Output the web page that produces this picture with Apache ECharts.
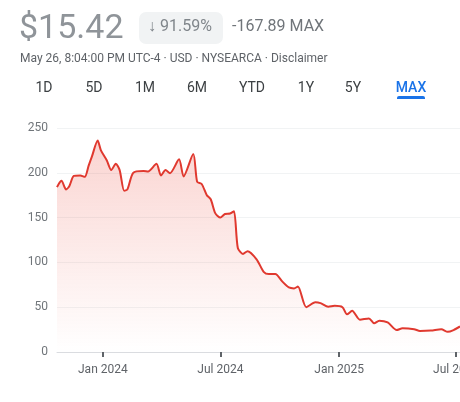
<!DOCTYPE html>
<html>
<head>
<meta charset="utf-8">
<script src="https://cdn.jsdelivr.net/npm/echarts@6/dist/echarts.min.js"></script>
<style>
  html, body { margin: 0; padding: 0; background: #fff; }
  #chart { width: 460px; height: 402px; }
</style>
</head>
<body>
<div id="chart"></div>
<script>
const dates = [
  '2023-10-22', '2023-10-26', '2023-10-29', '2023-11-05', '2023-11-10', '2023-11-17',
  '2023-11-27', '2023-12-04', '2023-12-10', '2023-12-15', '2023-12-24', '2023-12-29',
  '2024-01-07', '2024-01-14', '2024-01-21', '2024-01-27', '2024-02-03', '2024-02-08',
  '2024-02-17', '2024-03-04', '2024-03-11', '2024-03-24', '2024-03-31', '2024-04-07',
  '2024-04-14', '2024-04-28', '2024-05-05', '2024-05-20', '2024-05-26', '2024-06-02',
  '2024-06-10', '2024-06-16', '2024-06-23', '2024-07-01', '2024-07-08', '2024-07-16',
  '2024-07-22', '2024-07-28', '2024-08-05', '2024-08-12', '2024-08-26', '2024-09-06',
  '2024-09-14', '2024-09-24', '2024-10-05', '2024-10-15', '2024-10-23', '2024-10-29',
  '2024-11-11', '2024-11-25', '2024-12-03', '2024-12-15', '2024-12-25', '2025-01-06',
  '2025-01-13', '2025-01-21', '2025-02-02', '2025-02-16', '2025-02-24', '2025-03-04',
  '2025-03-17', '2025-03-31', '2025-04-09', '2025-04-27', '2025-05-06', '2025-05-23',
  '2025-06-08', '2025-06-18', '2025-06-27', '2025-07-07'
]
const prices = [
  184, 189, 191, 181.5, 185, 196.5,
  197, 195.5, 208, 218, 236, 225,
  214, 203, 210, 203, 180, 181.5,
  200, 202, 201.5, 210, 197, 203,
  199.5, 215, 196, 221, 190, 187.5,
  175, 170.5, 155, 150, 154, 154.5,
  157, 116, 109.5, 112.5, 103.5, 89.5,
  87, 87, 78.5, 72, 71, 73,
  50, 55.5, 54.5, 50.5, 51.5, 50,
  42, 46, 36, 37.5, 32, 35,
  33, 24.5, 26.5, 25.5, 23.5, 24,
  25.5, 22.5, 24.5, 28.5
]
const tickDates = ['2024-01-01', '2024-07-01', '2025-01-01', '2025-07-01']
const ranges = ['1D', '5D', '1M', '6M', 'YTD', '1Y', '5Y', 'MAX']
const rangeX = [44, 94, 145, 197, 252, 306, 353, 411]
const months = ['Jan', 'Feb', 'Mar', 'Apr', 'May', 'Jun', 'Jul', 'Aug', 'Sep', 'Oct', 'Nov', 'Dec']

const chart = echarts.init(document.getElementById('chart'))
const font = 'Roboto, "Noto Sans", sans-serif'
const toTime = d => +new Date(d + 'T00:00:00')
const tickValues = tickDates.map(toTime)

// header: price, change badge, info line, range tabs
const header = [
  { type: 'text', left: 19, top: 12, style: { text: '$15.42', fill: '#8f9499', font: '34px ' + font } },
  { type: 'rect', shape: { x: 139, y: 12, width: 84, height: 32, r: 7 }, style: { fill: '#f1f3f4' } },
  { type: 'text', left: 148, top: 19, style: { text: '↓', fill: '#80868b', font: '16px ' + font } },
  { type: 'text', left: 160, top: 19, style: { text: '91.59%', fill: '#80868b', font: '16px ' + font } },
  { type: 'text', left: 232, top: 19, style: { text: '-167.89 MAX', fill: '#70757a', font: '16px ' + font } },
  { type: 'text', left: 20, top: 53, style: { text: 'May 26, 8:04:00 PM UTC-4 · USD · NYSEARCA · Disclaimer', fill: '#5f6368', font: '12px ' + font } },
  { type: 'rect', shape: { x: 397, y: 96, width: 28, height: 3, r: [2, 2, 0, 0] }, style: { fill: '#1a73e8' } }
]
ranges.forEach((r, i) => {
  header.push({
    type: 'text',
    x: rangeX[i],
    y: 88,
    style: {
      text: r,
      align: 'center',
      verticalAlign: 'middle',
      fill: r === 'MAX' ? '#1a73e8' : '#3c4043',
      font: (r === 'MAX' ? '500 ' : '') + '14px ' + font
    }
  })
})

const option = {
  animation: false,
  graphic: header,
  grid: { left: 57, right: 0, top: 128, bottom: 50, containLabel: false, outerBoundsMode: 'none' },
  xAxis: {
    type: 'value',
    min: toTime('2023-10-22'),
    max: toTime('2025-07-07'),
    axisLine: { lineStyle: { color: '#dadce0', width: 1 } },
    axisTick: { show: true, length: 5, customValues: tickValues, lineStyle: { color: '#5f6368', width: 2 } },
    splitLine: { show: false },
    axisLabel: {
      customValues: tickValues,
      hideOverlap: false,
      showMinLabel: true,
      showMaxLabel: true,
      color: '#5f6368',
      fontSize: 12,
      fontFamily: font,
      margin: 12,
      formatter: (val) => {
        const d = new Date(val)
        return months[d.getMonth()] + ' ' + d.getFullYear()
      }
    }
  },
  yAxis: {
    type: 'value',
    min: 0,
    max: 250,
    interval: 50,
    axisLine: { show: false },
    axisTick: { show: false },
    splitLine: { lineStyle: { color: '#f1f3f4', width: 1 } },
    axisLabel: { color: '#70757a', fontSize: 12, fontFamily: font, margin: 9 }
  },
  series: [
    {
      type: 'line',
      data: dates.map((d, i) => [toTime(d), prices[i]]),
      smooth: 0.25,
      symbol: 'none',
      lineStyle: { color: '#e0392f', width: 2 },
      areaStyle: {
        color: new echarts.graphic.LinearGradient(0, 0, 0, 1, [
          { offset: 0, color: 'rgba(234, 67, 53, 0.32)' },
          { offset: 1, color: 'rgba(234, 67, 53, 0)' }
        ])
      }
    }
  ]
}
chart.setOption(option)
</script>
</body>
</html>
